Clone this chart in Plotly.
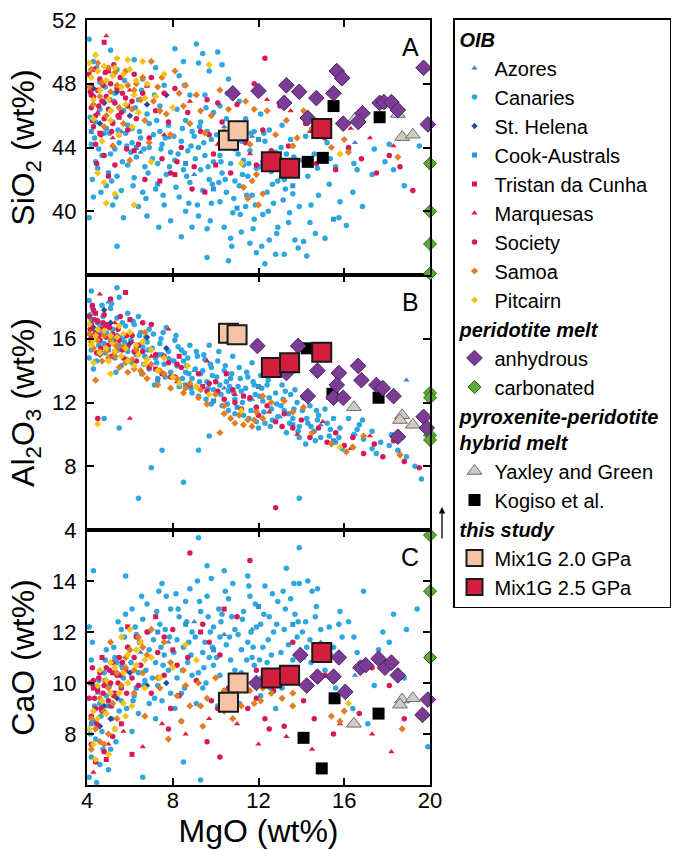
import plotly.graph_objects as go

FONT = "Liberation Sans, Arial, Helvetica, sans-serif"

# ---------------- axis ticks ----------------
mgo_ticks = [4, 8, 12, 16, 20]
sio2_ticks = [40, 44, 48, 52]
al2o3_ticks = [4, 8, 12, 16]
cao_ticks = [8, 10, 12, 14]

# ---------------- OIB data (MgO, oxide) ----------------
canaries_sio2 = [(4.1,50.8),(4.3,49.4),(4.2,47.3),(4.6,46.4),(4.4,45.6),(4.8,44.9),(4.2,44.2),(4.7,43.5),(4.5,42.7),(4.9,41.6),(4.3,40.9),(4.1,39.6),(4.6,48.1),(4.9,45.2),(4.4,43.1),
 (5.1,50.1),(5.4,48.9),(5.3,47.4),(5.7,46.3),(5.2,45.6),(5.8,44.9),(5.5,44.3),(5.1,43.6),(5.9,42.9),(5.4,42.2),(5.6,41.3),(5.2,40.4),(5.7,39.6),(5.4,37.8),(5.9,45.4),(5.3,43.9),
 (6.2,49.5),(6.6,48.3),(6.4,47.0),(6.8,46.1),(6.1,45.2),(6.5,44.6),(6.9,44.0),(6.3,43.4),(6.7,42.8),(6.2,42.1),(6.6,41.2),(6.4,40.3),(6.8,39.7),(6.1,44.3),(6.9,45.5),
 (7.2,49.0),(7.6,47.9),(7.4,46.6),(7.8,45.4),(7.1,44.8),(7.5,44.2),(7.9,43.7),(7.3,43.0),(7.7,42.3),(7.2,41.4),(7.6,40.4),(7.9,39.4),(7.4,45.0),
 (8.1,50.2),(8.5,49.4),(8.3,48.5),(8.8,47.3),(8.2,46.4),(8.6,45.7),(8.9,45.0),(8.4,44.4),(8.7,43.8),(8.1,43.2),(8.5,42.6),(8.8,41.8),(8.3,40.9),(8.6,40.0),(8.9,39.0),(8.4,38.4),
 (9.1,50.5),(9.4,49.9),(9.2,49.3),(9.7,48.8),(9.5,47.3),(9.9,46.2),(9.3,45.6),(9.6,45.0),(9.8,44.5),(9.2,44.0),(9.5,43.5),(9.9,43.1),(9.3,42.6),(9.7,42.0),(9.4,41.3),(9.8,40.5),(9.2,39.7),(9.6,38.9),(9.6,37.1),(9.0,44.7),
 (10.1,50.0),(10.3,49.2),(10.6,48.3),(10.2,46.6),(10.5,45.8),(10.8,45.0),(10.4,44.4),(10.9,43.9),(10.2,43.5),(10.7,43.0),(10.3,42.4),(10.9,41.9),(10.5,41.2),(10.2,40.6),(10.8,39.9),(10.4,39.0),(10.7,38.3),(10.6,36.9),
 (11.1,46.9),(11.4,45.8),(11.8,45.0),(11.2,44.4),(11.6,43.8),(11.3,43.2),(11.9,42.7),(11.5,42.2),(11.1,41.6),(11.7,41.0),(11.4,40.3),(11.8,39.5),(11.2,38.7),(11.6,38.0),(11.9,37.4),(11.3,42.9),
 (12.1,46.1),(12.5,45.1),(12.3,44.4),(12.8,43.7),(12.2,43.1),(12.6,42.5),(12.9,41.9),(12.4,41.2),(12.7,40.5),(12.2,39.8),(12.9,39.0),(12.5,38.2),(12.8,37.3),(12.3,36.7),
 (13.1,45.4),(13.5,44.5),(13.3,43.6),(13.8,42.9),(13.2,42.0),(13.6,41.1),(13.9,40.3),(13.4,39.3),(13.7,38.2),(13.2,37.3),
 (14.2,44.7),(14.6,43.6),(14.3,42.2),(14.8,41.0),(14.4,39.3),(14.1,38.1),
 (15.2,44.3),(15.6,42.8),(15.3,41.7),(15.8,40.6),(15.1,38.3),
 (16.2,43.9),(16.6,42.6),(16.4,41.2),(16.1,39.1),
 (17.4,43.9),(17.9,43.1),(18.3,42.6),(18.8,41.6),(19.5,44.1),
 (4.15,45.9),(4.35,44.6),(4.55,43.9),(4.75,46.9),(4.25,42.0),(4.65,41.2),(4.85,47.8),(4.45,49.0),
 (5.05,44.9),(5.25,46.9),(5.45,45.1),(5.65,43.1),(5.85,44.1),(5.15,41.9),(5.75,48.2),(5.35,40.9),
 (6.05,43.7),(6.25,46.5),(6.45,45.0),(6.65,43.9),(6.85,42.4),(6.15,41.6),(6.55,47.6),(6.75,40.8),
 (7.05,43.3),(7.25,45.7),(7.45,43.9),(7.65,44.6),(7.85,42.8),(7.15,47.3),(7.55,41.0),(7.35,39.0),
 (8.05,44.7),(8.25,43.6),(8.45,45.2),(8.65,42.2),(8.85,44.1),(8.15,41.5),(8.55,47.9),(8.75,40.5),
 (9.05,43.3),(9.25,45.3),(9.45,44.3),(9.65,42.8),(9.85,41.7),(9.15,40.4),(9.55,46.5),(9.75,39.4),
 (10.05,44.8),(10.25,43.1),(10.45,42.0),(10.65,44.2),(10.85,40.8),(10.15,41.8),(10.55,47.4),(10.75,37.8),
 (11.05,43.6),(11.25,42.3),(11.45,41.0),(11.65,44.9),(11.85,40.4),(11.15,39.8),(11.55,43.0),(11.75,38.9),
 (12.05,42.8),(12.25,44.9),(12.45,40.0),(12.65,41.7),(12.85,38.6),(12.15,37.8),(12.55,43.4),
 (13.05,44.0),(13.25,41.4),(13.45,39.9),(13.65,43.4),(13.85,37.7),(13.15,40.7),
 (14.05,43.2),(14.45,40.4),(14.75,42.7),(14.25,37.2),(14.65,38.6),
 (15.35,43.3),(15.75,39.6),(16.45,43.0),(16.85,40.3),(17.3,42.3),(18.1,44.2)]

canaries_al2o3 = [(4.1,18.4),(4.3,17.8),(4.2,17.2),(4.6,16.8),(4.4,16.2),(4.8,15.7),(4.2,15.3),(4.7,18.1),(4.5,17.0),(4.9,16.4),(4.1,14.8),(4.6,15.9),(4.3,14.1),(4.2,19.0),
 (5.1,17.9),(5.4,17.3),(5.2,16.6),(5.7,16.1),(5.5,15.6),(5.9,15.2),(5.3,14.8),(5.6,14.3),(5.8,16.8),(5.1,15.9),(5.5,18.6),(5.9,17.6),(5.4,19.2),
 (6.2,16.9),(6.5,16.4),(6.8,15.8),(6.3,15.3),(6.7,14.9),(6.1,14.5),(6.9,14.1),(6.4,17.4),(6.6,15.5),(6.9,16.6),
 (7.1,16.3),(7.4,15.7),(7.8,15.2),(7.2,14.8),(7.6,14.4),(7.9,13.9),(7.3,13.5),(7.7,16.7),(7.5,15.0),
 (8.1,15.9),(8.4,15.3),(8.7,14.8),(8.2,14.3),(8.6,13.9),(8.9,13.5),(8.3,13.0),(8.8,15.6),(8.5,14.6),(8.9,12.6),
 (9.1,15.2),(9.5,14.7),(9.8,14.2),(9.3,13.8),(9.6,13.3),(9.9,12.8),(9.2,12.4),(9.7,15.6),(9.4,14.0),(9.8,11.9),
 (10.1,14.6),(10.4,14.0),(10.7,13.5),(10.2,13.1),(10.6,12.7),(10.9,12.2),(10.3,11.8),(10.8,14.9),(10.5,13.3),(10.9,11.3),
 (11.1,14.2),(11.5,13.6),(11.8,13.1),(11.2,12.7),(11.6,12.2),(11.9,11.7),(11.3,11.2),(11.7,14.5),(11.4,12.9),(11.9,10.8),
 (12.1,13.7),(12.4,13.1),(12.8,12.6),(12.2,12.1),(12.6,11.6),(12.9,11.1),(12.3,10.7),(12.7,13.9),(12.5,12.3),(12.0,10.4),
 (13.1,13.1),(13.5,12.5),(13.8,12.0),(13.2,11.5),(13.6,11.0),(13.9,10.5),(13.3,10.1),(13.7,12.8),(13.4,11.3),(13.9,9.8),
 (14.1,12.3),(14.4,11.8),(14.8,11.2),(14.3,10.7),(14.6,10.2),(14.9,9.8),(14.2,9.4),(14.7,11.5),
 (15.1,11.6),(15.5,11.0),(15.8,10.4),(15.3,9.9),(15.6,9.5),(15.9,9.1),(15.2,10.7),
 (16.2,11.0),(16.6,10.3),(16.9,9.7),(16.4,9.2),(16.7,10.6),
 (17.3,10.2),(17.7,9.5),(18.2,10.0),(18.5,9.0),(18.9,8.6),(17.5,8.8),(19.3,8.0),(19.6,7.2),
 (6.4,6.0),(7.0,7.9),(8.5,7.0),(9.2,9.0),(7.5,9.0),(5.5,10.4),(4.8,11.0),(9.7,9.9),(13.9,6.0),(10.6,11.5),
 (4.15,17.5),(4.35,16.6),(4.55,15.6),(4.75,17.4),(4.25,18.0),(4.65,16.3),(4.85,15.1),(4.45,14.6),
 (5.05,16.9),(5.25,16.0),(5.45,15.3),(5.65,17.0),(5.85,14.7),(5.15,18.2),(5.75,15.8),(5.35,13.9),
 (6.05,15.9),(6.25,15.1),(6.45,16.2),(6.65,14.4),(6.85,15.3),(6.15,17.1),(6.55,13.8),(6.75,16.1),
 (7.05,15.4),(7.25,14.5),(7.45,16.0),(7.65,13.6),(7.85,14.7),(7.15,13.1),(7.55,16.4),(7.35,15.0),
 (8.05,14.6),(8.25,15.5),(8.45,13.5),(8.65,14.3),(8.85,12.9),(8.15,16.2),(8.55,15.1),(8.75,13.8),
 (9.05,14.1),(9.25,13.3),(9.45,15.0),(9.65,12.9),(9.85,13.7),(9.15,14.9),(9.55,12.2),(9.75,14.4),
 (10.05,13.6),(10.25,12.5),(10.45,14.3),(10.65,13.0),(10.85,12.6),(10.15,15.2),(10.55,11.9),(10.75,13.8),
 (11.05,13.0),(11.25,12.0),(11.45,13.9),(11.65,11.5),(11.85,12.5),(11.15,13.5),(11.55,11.0),(11.75,13.3),
 (12.05,12.4),(12.25,11.4),(12.45,13.4),(12.65,10.9),(12.85,11.9),(12.15,12.9),(12.55,10.5),
 (13.05,11.8),(13.25,12.7),(13.45,10.7),(13.65,11.6),(13.85,10.2),(13.15,12.2),
 (14.05,11.5),(14.45,10.5),(14.75,10.9),(14.25,11.0),(14.65,9.6),
 (15.35,10.3),(15.75,9.8),(16.45,10.0),(16.85,10.9),(17.3,9.1),(18.1,9.3),(18.7,9.8)]

canaries_cao = [(4.1,6.3),(4.2,7.1),(4.4,7.8),(4.3,8.5),(4.6,9.2),(4.5,9.8),(4.8,10.4),(4.2,10.9),(4.7,8.1),(4.9,9.5),(4.3,14.4),(4.6,6.8),(4.9,11.3),(4.1,12.2),
 (5.1,7.4),(5.3,8.2),(5.5,8.9),(5.2,9.6),(5.7,10.2),(5.4,10.8),(5.9,11.4),(5.6,12.1),(5.8,12.7),(5.3,11.0),(5.6,9.3),(5.8,14.2),(5.0,6.6),
 (6.1,8.1),(6.4,8.8),(6.2,9.5),(6.7,10.1),(6.5,10.7),(6.9,11.3),(6.3,11.9),(6.6,12.5),(6.8,13.1),(6.1,12.9),(6.4,10.4),(6.9,9.2),(6.6,6.3),
 (7.2,8.6),(7.5,9.3),(7.3,9.9),(7.8,10.5),(7.6,11.1),(7.1,11.7),(7.4,12.3),(7.9,12.9),(7.7,13.4),(7.2,10.8),(7.9,9.6),(7.5,13.9),
 (8.1,9.0),(8.4,9.6),(8.2,10.2),(8.7,10.8),(8.5,11.4),(8.9,12.0),(8.3,12.6),(8.6,13.2),(8.8,13.7),(8.2,11.7),(8.9,10.3),(8.5,6.9),(8.4,8.5),
 (9.1,9.2),(9.4,9.8),(9.2,10.4),(9.7,11.0),(9.5,11.6),(9.9,12.2),(9.3,12.8),(9.6,13.4),(9.8,14.1),(9.2,15.7),(9.4,11.2),(9.9,10.7),(9.3,6.2),(9.6,14.6),
 (10.1,9.1),(10.4,9.7),(10.2,10.3),(10.7,10.9),(10.5,11.5),(10.9,12.1),(10.3,12.7),(10.6,13.3),(10.8,13.9),(10.2,11.8),(10.9,10.5),(10.4,14.4),
 (11.1,9.2),(11.4,9.8),(11.2,10.4),(11.7,11.0),(11.5,11.6),(11.9,12.2),(11.3,12.8),(11.6,13.4),(11.8,10.7),(11.2,11.3),(11.5,14.2),
 (12.1,9.5),(12.4,10.8),(12.2,11.4),(12.7,12.0),(12.5,12.6),(12.9,13.2),(12.3,13.8),(12.6,11.1),(12.8,9.0),(12.1,12.3),
 (13.1,9.8),(13.4,11.5),(13.2,12.1),(13.7,12.7),(13.5,13.3),(13.9,13.9),(13.3,14.5),(13.9,15.3),(13.6,10.9),(13.8,11.8),
 (14.1,11.0),(14.4,11.7),(14.2,12.4),(14.7,13.0),(14.5,13.6),(14.9,12.1),(14.3,14.0),
 (15.1,10.5),(15.5,11.4),(15.3,12.2),(15.8,12.8),(15.6,9.8),(15.9,11.8),
 (16.2,12.4),(16.6,11.2),(16.9,13.6),(17.4,9.9),(17.8,12.0),(18.3,12.7),(18.8,10.2),(19.4,12.9),(17.1,8.4),(19.9,7.5),(16.4,9.0),
 (4.15,8.0),(4.35,9.1),(4.55,10.1),(4.75,7.4),(4.25,11.6),(4.65,8.7),(4.85,10.9),(4.45,6.1),
 (5.05,9.9),(5.25,11.4),(5.45,12.4),(5.65,10.6),(5.85,9.0),(5.15,8.6),(5.75,11.8),(5.35,7.7),
 (6.05,10.8),(6.25,12.2),(6.45,11.6),(6.65,9.9),(6.85,12.0),(6.15,9.3),(6.55,13.4),(6.75,10.5),
 (7.05,10.2),(7.25,12.8),(7.45,11.4),(7.65,12.1),(7.85,11.8),(7.15,9.4),(7.55,10.7),(7.35,13.6),
 (8.05,11.2),(8.25,12.9),(8.45,10.5),(8.65,12.4),(8.85,11.1),(8.15,13.5),(8.55,9.8),(8.75,11.6),
 (9.05,11.8),(9.25,13.2),(9.45,10.6),(9.65,12.6),(9.85,11.4),(9.15,14.0),(9.55,10.0),(9.75,12.0),
 (10.05,11.0),(10.25,12.4),(10.45,13.6),(10.65,11.8),(10.85,10.1),(10.15,12.9),(10.55,9.6),(10.75,12.6),
 (11.05,11.9),(11.25,12.5),(11.45,10.9),(11.65,12.0),(11.85,13.1),(11.15,10.0),(11.55,13.8),(11.75,11.4),
 (12.05,10.9),(12.25,12.7),(12.45,11.7),(12.65,13.5),(12.85,12.3),(12.15,10.2),(12.55,9.8),
 (13.05,11.2),(13.25,12.9),(13.45,10.4),(13.65,13.9),(13.85,12.4),(13.15,13.6),
 (14.05,12.0),(14.45,10.8),(14.75,13.7),(14.25,11.4),(14.65,12.6),
 (15.35,11.1),(15.75,12.3),(16.45,11.8),(16.85,10.8),(17.6,11.3),(18.1,11.6),(18.9,12.1)]

society_sio2 = [(4.1,48.6),(4.2,47.9),(4.3,47.2),(4.2,46.5),(4.4,46.0),(4.5,47.6),(4.6,48.3),(4.7,46.9),(4.8,45.8),(4.3,45.3),(4.9,47.2),(5.0,46.4),(5.1,48.0),(5.2,45.5),(5.3,46.8),(5.4,47.7),(5.5,44.8),(5.6,46.2),(5.8,47.1),(5.9,45.1),(4.4,44.2),(4.8,43.5),(5.3,42.9),
 (6.1,46.9),(6.3,45.8),(6.6,47.4),(6.9,44.6),(7.2,46.3),(7.5,43.3),(7.8,45.6),(8.1,47.7),(8.4,44.0),(8.7,46.2),(9.0,42.8),(9.3,45.0),(9.6,47.0),(9.9,43.6),(10.3,45.6),(10.7,42.4),(11.0,46.7),(11.4,44.3),(11.8,48.0),(12.2,45.1),(12.6,43.8),(13.0,46.6),(13.4,44.1),(13.8,42.3),(14.2,45.5),(14.7,43.0),(15.1,44.6),(15.6,42.6),(16.2,44.0),(16.8,43.3),(17.5,42.4),(18.1,43.5),(18.6,42.8),(19.2,41.3),(6.7,42.0),(8.9,41.4),(7.0,48.4),(12.3,49.6),
 (4.15,47.5),(4.35,48.9),(4.55,46.6),(4.75,47.9),(4.25,45.7),(4.65,44.8),(4.85,48.7),(5.05,47.0),(5.25,49.2),(5.45,46.0),(5.65,47.4),(5.85,43.9),(5.15,45.0),(5.55,48.4),(6.4,44.2),(7.6,47.4),(8.2,43.1),(9.7,44.8),(10.9,44.0),(4.45,43.0),(5.0,42.2),(6.2,48.6),(11.9,42.9),(13.1,43.0),(7.9,42.4),(10.1,46.8)]
society_al2o3 = [(4.1,17.4),(4.2,16.9),(4.3,17.8),(4.4,16.4),(4.5,17.1),(4.6,15.9),(4.7,16.6),(4.8,17.5),(4.9,16.1),(5.0,15.6),(5.2,16.3),(5.3,15.2),(5.5,15.9),(5.7,14.8),(5.9,15.5),(6.1,16.2),(6.3,14.6),(6.6,15.2),(6.9,14.2),(7.2,15.0),(7.5,13.8),(7.8,14.5),(8.1,13.6),(8.4,14.2),(8.8,13.1),(9.2,13.8),(9.6,12.7),(10.0,13.3),(10.4,12.2),(10.8,12.8),(11.2,11.6),(11.6,12.3),(12.0,11.2),(12.4,11.8),(12.8,10.8),(13.2,11.3),(13.6,10.4),(14.0,10.9),(14.4,9.8),(14.8,10.4),(15.2,9.5),(15.6,10.1),(16.0,9.3),(16.4,9.8),(16.9,8.8),(17.4,9.4),(17.8,8.6),(18.3,9.6),(18.8,8.3),(19.5,7.9),(5.1,18.5),(6.6,17.0),(4.5,11.0),(12.8,5.4),(7.0,16.9),
 (4.15,16.6),(4.35,17.2),(4.55,16.2),(4.75,17.0),(4.25,18.1),(4.65,15.4),(4.85,16.8),(5.05,16.7),(5.25,15.7),(5.45,16.6),(5.65,15.3),(5.85,16.2),(5.15,14.9),(5.55,17.4),(6.4,15.6),(7.6,14.9),(8.2,14.4),(9.7,13.2),(10.9,12.0),(4.45,15.1),(6.2,15.2),(11.9,11.7),(13.1,10.5),(7.9,13.6),(10.1,12.7)]
society_cao = [(4.1,9.4),(4.2,8.7),(4.3,10.1),(4.4,9.0),(4.5,9.7),(4.6,10.4),(4.7,8.9),(4.8,9.9),(4.9,10.6),(5.0,9.3),(5.1,10.0),(5.2,10.8),(5.3,9.6),(5.4,10.3),(5.5,11.0),(5.6,9.8),(5.8,10.5),(5.9,11.4),(4.2,7.6),(4.4,6.9),(4.8,7.3),(5.2,7.9),(6.1,10.2),(6.3,11.8),(6.5,10.7),(6.8,12.0),(7.0,9.6),(7.3,11.2),(7.6,10.3),(8.0,12.1),(8.3,9.5),(8.7,11.0),(9.1,10.1),(9.4,12.3),(9.8,9.3),(10.2,11.1),(10.6,9.8),(11.0,12.6),(11.5,9.0),(11.9,10.5),(12.3,8.6),(12.7,9.7),(13.2,8.3),(13.6,11.6),(14.1,9.3),(14.6,8.6),(15.1,10.3),(15.5,8.0),(16.1,9.6),(16.7,8.8),(17.3,10.6),(18.1,9.9),(18.8,8.6),(8.8,15.1),(11.6,14.8),(10.2,7.1),(12.5,8.2),(7.8,8.2),(9.6,7.7),
 (4.15,10.0),(4.35,9.4),(4.55,10.2),(4.75,9.6),(4.25,10.6),(4.65,9.0),(4.85,10.1),(5.05,10.5),(5.25,9.5),(5.45,10.0),(5.65,10.8),(5.85,9.6),(5.15,9.1),(5.55,10.3),(6.4,9.9),(7.6,11.8),(8.2,10.7),(9.7,11.6),(10.9,10.2),(4.45,8.4),(6.2,11.0),(11.9,9.4),(13.1,10.0),(7.9,9.0),(10.1,9.0)]

tristan_sio2 = [(4.2,47.3),(4.6,44.9),(5.0,48.8),(5.5,45.9),(6.2,43.8),(7.4,41.9),(8.1,42.3),(9.5,41.2),(4.8,50.6),(5.9,46.6),(6.8,47.9),(10.0,42.9)]
tristan_al2o3 = [(4.4,17.6),(4.9,16.9),(5.8,18.9),(5.4,16.0),(6.3,15.4),(7.2,14.1),(8.3,14.9),(9.4,13.0),(10.5,13.8),(4.2,16.2),(6.0,17.2),(11.3,12.4)]
tristan_cao = [(4.3,9.8),(4.7,11.0),(5.2,10.4),(5.9,12.2),(6.5,11.6),(7.2,12.6),(8.0,11.3),(9.3,12.0),(4.9,7.0),(5.6,8.4),(6.1,7.2),(10.4,12.9)]

marquesas_sio2 = [(4.5,46.2),(5.2,44.6),(6.0,47.6),(7.6,44.8),(8.8,46.9),(10.1,44.2),(11.6,43.6),(12.4,47.0),(13.5,46.3),(14.4,45.0),(15.3,45.7),(16.3,45.2),(17.2,44.6),(18.3,44.1),(4.9,51.0)]
marquesas_al2o3 = [(4.6,18.8),(5.3,17.0),(6.1,15.8),(7.0,14.9),(8.2,13.3),(9.6,14.6),(10.9,12.5),(12.5,11.4),(13.8,10.0),(15.0,10.8),(16.3,9.1),(17.2,9.9),(18.6,8.8),(7.8,16.6),(6.0,11.0)]
marquesas_cao = [(4.5,8.3),(5.0,7.6),(5.7,8.1),(6.6,7.5),(7.5,8.4),(8.6,8.0),(9.7,8.6),(11.0,8.4),(12.0,7.6),(13.3,7.9),(14.5,7.4),(15.8,8.4),(17.3,8.0),(18.2,7.3),(4.3,6.5)]

samoa_sio2 = [(4.1,47.8),(4.3,46.7),(4.5,49.3),(4.7,48.1),(4.9,46.0),(5.1,47.5),(5.3,48.7),(5.5,46.5),(5.7,45.5),(5.9,47.9),(6.1,46.4),(6.3,48.0),(6.5,47.0),(6.7,45.7),(6.9,44.3),(7.1,46.9),(7.3,47.8),(7.5,48.4),(7.7,46.1),(7.9,44.8),(8.1,48.8),(8.3,47.4),(8.5,46.6),(8.8,45.5),(9.1,47.3),(9.5,44.9),(9.8,46.0),(10.2,47.6),(10.6,46.4),(11.1,45.5),(11.4,46.9),(11.6,44.2),(11.3,41.5),(11.5,40.8),(11.7,41.9),(12.0,40.4),(11.9,42.3),(12.4,46.3),(12.8,44.8),(13.3,45.7),(13.8,44.6),(14.1,46.3),(14.5,45.2),(15.4,44.0),(16.0,44.5),(16.2,43.7),(18.5,43.4),(5.2,44.1),(6.0,43.2),(7.0,49.4),
 (4.2,48.9),(4.6,47.2),(5.0,49.0),(5.4,47.9),(5.8,48.8),(6.2,47.6),(6.6,48.4),(7.4,46.3),(8.6,47.9),(9.3,46.3),(10.4,45.0),(11.8,46.4),(12.2,41.1),(13.6,44.1),(4.8,45.3)]
samoa_al2o3 = [(4.1,16.3),(4.3,15.4),(4.5,15.9),(4.7,14.6),(4.9,15.2),(5.1,16.0),(5.3,14.9),(5.5,14.2),(5.7,15.5),(5.9,13.9),(6.1,14.7),(6.3,15.3),(6.5,14.0),(6.8,13.5),(7.0,14.4),(7.3,13.1),(7.6,13.8),(7.9,12.9),(8.2,13.5),(8.5,12.6),(8.8,13.2),(9.2,12.3),(9.6,11.9),(10.0,12.5),(10.4,11.3),(10.7,11.0),(10.9,10.7),(11.1,11.2),(11.3,10.6),(11.5,10.9),(11.7,10.5),(11.9,11.4),(12.2,12.4),(13.2,12.1),(14.1,11.7),(14.5,10.1),(15.4,9.4),(16.1,8.9),(16.4,9.2),(16.9,9.9),(18.6,8.7),(12.6,12.0),(10.2,10.1),(4.4,13.4),(6.7,16.4),
 (4.2,15.8),(4.6,15.2),(5.0,14.8),(5.4,15.5),(5.8,14.5),(6.2,14.1),(6.6,13.8),(7.4,14.0),(8.6,12.9),(9.3,12.8),(10.4,11.8),(11.8,10.9),(12.2,11.0),(13.6,11.4),(4.8,16.2)]
samoa_cao = [(4.2,7.4),(4.4,8.2),(4.6,7.7),(4.8,8.9),(5.0,8.0),(5.2,9.2),(5.4,8.6),(5.6,9.9),(5.8,10.6),(6.0,11.3),(6.2,9.6),(6.4,11.8),(6.6,10.4),(6.8,11.1),(7.0,12.1),(7.3,10.2),(7.6,11.6),(7.9,10.8),(8.2,9.5),(8.5,10.5),(8.8,9.1),(8.4,8.5),(9.2,10.0),(9.6,9.4),(10.0,10.2),(10.4,9.7),(10.8,8.6),(11.2,9.1),(11.6,9.7),(12.1,9.3),(12.6,9.6),(13.1,9.4),(13.6,9.1),(14.3,9.8),(15.4,8.7),(15.8,8.5),(16.0,8.9),(18.7,8.2),(6.7,8.7),(5.1,11.6),(7.8,7.8),(9.4,8.3),
 (4.2,8.6),(4.6,9.4),(5.0,9.8),(5.4,10.4),(5.8,11.0),(6.2,10.5),(6.6,11.4),(7.4,9.8),(8.6,9.9),(9.3,9.1),(10.4,8.9),(11.8,9.2),(12.2,9.8),(13.6,9.6),(4.8,7.6)]

pitcairn_sio2 = [(4.2,48.4),(4.4,49.8),(4.6,47.6),(4.8,49.1),(5.0,47.0),(5.2,48.5),(5.4,49.6),(5.6,47.8),(5.8,46.7),(6.0,48.9),(6.2,47.3),(6.4,46.2),(6.6,49.4),(6.8,48.0),(4.3,45.8),(4.7,44.4),(5.1,45.7),(5.5,44.8),(6.1,45.3),(7.2,47.2),(7.6,48.6),(8.0,46.5),(4.5,42.4),(4.8,41.8),(5.3,41.1),(6.2,40.4),(4.9,40.5),(9.7,49.2),(11.2,43.0),(12.3,43.5),(15.8,43.6),(7.0,43.1),
 (4.3,47.0),(4.5,48.8),(4.9,48.2),(5.3,49.0),(5.7,48.6),(6.3,48.2),(6.7,47.1),(5.1,46.3),(5.9,49.5),(4.1,49.3)]
pitcairn_al2o3 = [(4.2,15.6),(4.4,16.2),(4.6,15.1),(4.8,16.5),(5.0,14.6),(5.2,15.7),(5.4,16.1),(5.6,14.9),(5.8,15.4),(6.0,16.4),(6.2,14.3),(6.4,15.0),(6.6,15.8),(6.8,14.7),(7.0,15.3),(7.3,14.0),(7.6,14.8),(8.0,13.6),(8.3,13.2),(8.7,14.3),(9.1,13.0),(4.5,10.65),(5.5,16.8),(5.1,13.8),(9.7,12.5),(15.8,9.2),(11.2,11.5),(4.3,14.5),
 (4.3,15.9),(4.5,16.6),(4.9,15.4),(5.3,15.2),(5.7,16.3),(6.3,15.6),(6.7,14.4),(5.1,16.2),(5.9,14.6),(4.1,16.9)]
pitcairn_cao = [(4.3,7.6),(4.5,8.6),(4.7,9.3),(4.9,10.1),(5.1,10.8),(5.3,8.2),(5.5,9.6),(5.7,10.4),(5.9,11.1),(6.1,9.1),(6.3,10.7),(6.5,11.6),(6.7,9.8),(5.0,7.2),(4.6,10.5),(5.8,8.7),(6.0,12.1),(7.0,11.0),(7.4,10.2),(8.0,10.6),(4.4,7.0),(8.6,11.5),(5.6,11.8),(16.2,9.2),(9.1,10.9),
 (4.3,8.9),(4.5,9.9),(4.9,8.8),(5.3,10.6),(5.7,9.2),(6.3,11.3),(6.7,10.9),(5.1,9.6),(5.9,10.0),(4.1,8.2)]

azores_sio2 = [(4.5,46.1),(5.6,45.0),(6.5,43.7),(7.8,44.6),(9.0,42.3),(10.4,45.3),(11.7,44.7),(13.0,43.3),(14.9,43.1),(16.5,44.3)]
azores_al2o3 = [(4.5,17.2),(5.6,16.1),(6.5,15.5),(7.8,14.8),(9.0,14.0),(10.4,12.9),(11.7,12.2),(13.0,11.1),(14.9,10.6),(16.5,10.0),(5.0,18.3),(18.9,13.4)]
azores_cao = [(4.5,9.6),(5.6,10.7),(6.5,11.2),(7.8,11.6),(9.0,12.4),(10.4,11.9),(11.7,12.1),(13.0,10.6),(14.9,11.6),(16.5,10.3)]

cook_sio2 = [(4.2,45.0),(5.0,42.4),(6.3,44.0),(7.3,41.7),(8.6,43.0),(9.9,41.4),(11.0,40.2),(12.0,44.5),(13.6,41.6),(15.5,39.5)]
cook_al2o3 = [(4.2,16.0),(5.0,15.3),(6.3,15.0),(7.3,13.4),(8.6,13.1),(9.9,12.1),(11.0,11.7),(12.0,13.0),(13.6,10.6),(15.5,9.6)]
cook_cao = [(4.2,8.4),(5.0,9.1),(6.3,9.8),(7.3,12.0),(8.6,12.3),(9.9,11.3),(11.0,10.1),(12.0,13.0),(13.6,12.3),(15.5,10.1)]

sthelena_sio2 = [(4.3,47.7),(4.8,46.8),(5.4,47.5),(6.0,46.0),(6.8,46.7),(5.1,46.3),(7.7,47.3),(4.6,45.5)]
sthelena_al2o3 = [(4.3,16.7),(4.8,17.8),(5.4,16.2),(6.0,15.7),(6.8,16.1),(5.1,17.0),(7.7,15.4),(4.6,15.0)]
sthelena_cao = [(4.3,9.9),(4.8,9.1),(5.4,9.4),(6.0,10.4),(6.8,9.9),(5.1,8.6),(7.7,10.0),(4.6,8.3)]

# ---------------- experimental melts ----------------
anhydrous_sio2 = [(10.8,47.4),(12.0,47.55),(13.3,47.9),(13.9,47.5),(13.2,46.8),(14.7,47.1),(15.65,48.8),(15.9,48.35),(15.5,47.4),(14.3,45.85),(15.95,45.5),(16.85,46.15),(16.65,45.6),(17.65,46.8),(17.85,46.85),(18.2,46.85),(18.5,46.35),(19.7,49.0),(19.9,45.45)]
anhydrous_al2o3 = [(11.95,15.55),(13.85,15.55),(13.3,13.85),(14.75,14.0),(14.3,12.4),(15.5,12.3),(15.75,13.85),(15.65,13.1),(15.95,12.3),(16.65,14.3),(16.8,13.4),(17.5,13.1),(17.8,12.9),(18.3,12.4),(18.5,9.85),(19.7,11.1),(19.85,10.4)]
anhydrous_cao = [(11.9,10.0),(13.95,11.1),(14.25,9.9),(14.75,10.25),(15.5,10.25),(15.75,11.0),(16.05,9.65),(16.75,10.6),(17.0,10.7),(17.6,10.95),(17.9,10.6),(18.2,10.8),(18.5,10.3),(19.9,9.35),(19.65,8.75)]

carbonated_sio2 = [(20,43.0),(20,40.0),(20,37.95),(20,36.1)]
carbonated_al2o3 = [(20,12.6),(20,12.3),(20,9.95),(20,9.65)]
carbonated_cao = [(20,15.8),(20,13.6),(20,11.0)]

yaxley_sio2 = [(16.5,45.8),(18.5,46.1),(18.7,44.65),(19.2,44.8)]
yaxley_al2o3 = [(16.45,11.7),(18.7,11.2),(18.6,10.9),(19.2,10.6)]
yaxley_cao = [(16.45,8.4),(18.7,9.35),(18.6,9.15),(19.2,9.4)]

kogiso_sio2 = [(15.5,46.6),(14.3,43.1),(15.0,43.35),(17.65,45.9)]
kogiso_al2o3 = [(14.25,15.4),(15.45,12.55),(17.6,12.3),(15.0,15.1)]
kogiso_cao = [(14.1,7.85),(14.95,6.65),(15.55,9.4),(17.6,8.8)]

mix20_sio2 = [(10.6,44.45),(11.05,45.05)]
mix20_al2o3 = [(10.6,16.35),(11.0,16.25)]
mix20_cao = [(11.05,10.0),(10.6,9.25)]

mix25_sio2 = [(12.6,43.1),(13.45,42.7),(14.95,45.2)]
mix25_al2o3 = [(12.6,14.2),(13.45,14.5),(14.95,15.15)]
mix25_cao = [(12.6,10.2),(13.45,10.3),(14.95,11.2)]

# ---------------- figure ----------------
# panel A (SiO2) -> x3/y3, panel B (Al2O3) -> x2/y2, panel C (CaO) -> x/y
PANELS = [("x3", "y3"), ("x2", "y2"), ("x", "y")]

fig = go.Figure()

def add_series(name, group, gtitle, rank, symbol, color, size, datasets,
               line_color=None, line_width=0, clip=True):
    for i, (data, (xa, ya)) in enumerate(zip(datasets, PANELS)):
        fig.add_trace(go.Scatter(
            x=[p[0] for p in data], y=[p[1] for p in data],
            xaxis=xa, yaxis=ya, mode="markers", name=name,
            legendgroup=group, legendrank=rank,
            legendgrouptitle=dict(text=gtitle) if i == 0 else None,
            showlegend=(i == 0), cliponaxis=clip,
            marker=dict(symbol=symbol, color=color, size=size,
                        line=dict(color=line_color or color, width=line_width)),
        ))

OIB = "<b><i>OIB</i></b>"
islands = [
    ("Azores", "triangle-up", "#4b7fc3", 5.5, (azores_sio2, azores_al2o3, azores_cao)),
    ("Canaries", "circle", "#2ea6e0", 5.5, (canaries_sio2, canaries_al2o3, canaries_cao)),
    ("St. Helena", "diamond", "#1f4f9e", 5, (sthelena_sio2, sthelena_al2o3, sthelena_cao)),
    ("Cook-Australs", "square", "#2a95d8", 5, (cook_sio2, cook_al2o3, cook_cao)),
    ("Tristan da Cunha", "square", "#d6175a", 5, (tristan_sio2, tristan_al2o3, tristan_cao)),
    ("Marquesas", "triangle-up", "#dc2233", 5.5, (marquesas_sio2, marquesas_al2o3, marquesas_cao)),
    ("Society", "circle", "#d8185a", 5.5, (society_sio2, society_al2o3, society_cao)),
    ("Samoa", "diamond", "#e07d25", 5.5, (samoa_sio2, samoa_al2o3, samoa_cao)),
    ("Pitcairn", "diamond", "#f6c317", 5.5, (pitcairn_sio2, pitcairn_al2o3, pitcairn_cao)),
]
for r, (nm, sym, col, sz, ds) in enumerate(islands):
    add_series(nm, "oib", OIB, r + 1, sym, col, sz, ds)

PER = "<b><i>peridotite melt</i></b>"
HYB = "<b><i>pyroxenite-peridotite<br>hybrid melt</i></b>"
STU = "<b><i>this study</i></b>"

add_series("carbonated", "per", PER, 11, "diamond", "#5cab31", 10,
           (carbonated_sio2, carbonated_al2o3, carbonated_cao), "#2f6b1a", 1, clip=False)
add_series("Yaxley and Green", "hyb", HYB, 12, "triangle-up", "#cfcbc3", 13,
           (yaxley_sio2, yaxley_al2o3, yaxley_cao), "#6e6e6e", 1, clip=False)
add_series("Kogiso et al.", "hyb", HYB, 13, "square", "#000000", 12,
           (kogiso_sio2, kogiso_al2o3, kogiso_cao), "#000000", 0, clip=False)
add_series("anhydrous", "per", PER, 10, "diamond", "#7b3c96", 12,
           (anhydrous_sio2, anhydrous_al2o3, anhydrous_cao), "#4e2264", 1, clip=False)
add_series("Mix1G 2.0 GPa", "stu", STU, 14, "square", "#f5c3a6", 19,
           (mix20_sio2, mix20_al2o3, mix20_cao), "#1a1a1a", 2, clip=False)
add_series("Mix1G 2.5 GPa", "stu", STU, 15, "square", "#d31f3d", 19,
           (mix25_sio2, mix25_al2o3, mix25_cao), "#1a1a1a", 2, clip=False)

# ---------------- axes ----------------
W, H = 695, 850
L, R, T, B = 87, 265, 20, 65
PH = H - T - B

def xaxis(show_labels, anchor):
    return dict(range=[4, 20], tickvals=mgo_ticks, showticklabels=show_labels,
                ticks="inside", ticklen=7, tickwidth=1.5, tickcolor="black",
                showline=True, linewidth=2, linecolor="black", mirror="ticks",
                showgrid=False, zeroline=False, anchor=anchor,
                tickfont=dict(size=22, family=FONT, color="black"),
                ticklabelstandoff=-5, automargin=False)

def yaxis(rng, ticks, title, domain, anchor):
    return dict(range=rng, tickvals=ticks, domain=domain,
                ticks="inside", ticklen=7, tickwidth=1.5, tickcolor="black",
                showline=True, linewidth=2, linecolor="black", mirror="ticks",
                showgrid=False, zeroline=False, anchor=anchor,
                tickfont=dict(size=22, family=FONT, color="black"),
                ticklabelstandoff=4,
                title=dict(text=title, font=dict(size=32, family=FONT, color="black"), standoff=8),
                automargin=False)

fig.update_layout(
    template="none",
    width=W, height=H,
    margin=dict(l=L, r=R, t=T, b=B, pad=0, autoexpand=False),
    paper_bgcolor="white", plot_bgcolor="white",
    font=dict(family=FONT, color="black"),
    xaxis=dict(**xaxis(True, "y"),
               title=dict(text="MgO (wt%)", font=dict(size=32, family=FONT, color="black"), standoff=3)),
    xaxis2=dict(**xaxis(False, "y2"), matches="x"),
    xaxis3=dict(**xaxis(False, "y3"), matches="x"),
    yaxis=yaxis([6, 16], cao_ticks, "CaO (wt%)", [0, 1/3], "x"),
    yaxis2=yaxis([4, 20], al2o3_ticks, "Al<sub>2</sub>O<sub>3</sub> (wt%)", [1/3, 2/3], "x2"),
    yaxis3=yaxis([36, 52], sio2_ticks, "SiO<sub>2</sub> (wt%)", [2/3, 1], "x3"),
    showlegend=True,
    legend=dict(xref="container", yref="container",
                x=453 / W, y=1 - 18 / H, xanchor="left", yanchor="top",
                maxheight=700,
                bordercolor="black", borderwidth=1.5, bgcolor="white",
                font=dict(size=20, family=FONT, color="black"),
                grouptitlefont=dict(size=20, family=FONT, color="black"),
                tracegroupgap=0, itemsizing="trace", traceorder="grouped"),
)

# panel letters
for letter, xa, ya in [("A", "x3", "y3"), ("B", "x2", "y2"), ("C", "x", "y")]:
    fig.add_annotation(text=letter, xref=f"{xa} domain", yref=f"{ya} domain",
                       x=0.975, y=0.955, xanchor="right", yanchor="top",
                       showarrow=False, font=dict(size=25, family=FONT, color="black"))

# arrow: carbonated melt CaO off scale
fig.add_annotation(xref="paper", yref="paper", x=(442 - L) / (W - L - R),
                   y=1 - (507 - T) / PH, ax=0, ay=33, axref="pixel", ayref="pixel",
                   text="", showarrow=True, arrowhead=2, arrowsize=1, arrowwidth=1.3,
                   arrowcolor="black")

# remove the browser's default 8px page margin so the figure sits at (0, 0)
fig.write_html("out.html", config={"displayModeBar": False},
               post_script="document.body.style.margin='0px';")
